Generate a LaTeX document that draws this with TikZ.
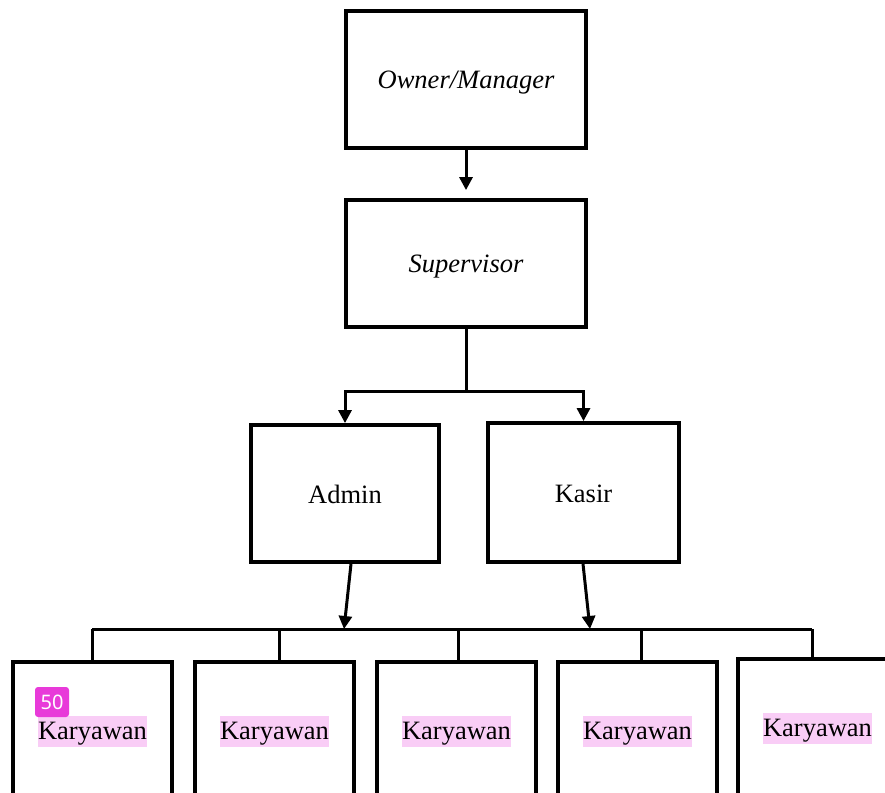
\documentclass[tikz,border=0pt]{standalone}
\usepackage{fontspec}
\setmainfont{Liberation Serif}
\newfontfamily\badgefont{Noto Sans}
\usetikzlibrary{arrows.meta,calc}
\definecolor{hlpink}{HTML}{F9CDF6}
\definecolor{badgemag}{HTML}{E83AD9}
\newcommand\lowr[2]{\raisebox{-#1pt}[0pt][0pt]{#2}}
\begin{document}
\begin{tikzpicture}[x=1pt,y=-1pt,
  box/.style={draw,line width=3.8pt,minimum width=240pt,inner sep=0pt,font=\fontsize{26.5}{30}\selectfont},
  kbox/.style={draw,line width=3.8pt,minimum width=159pt,minimum height=140pt,inner sep=0pt,anchor=north,font=\fontsize{26.5}{30}\selectfont},
  conn/.style={line width=3pt},
  arr/.style={conn,-{Triangle[length=13pt,width=13pt]}}]
\useasboundingbox (0,0) rectangle (885,792);
\clip (0,0) rectangle (885,792);
% top boxes
\node[box,minimum height=137pt] (own) at (466,79.5) {\lowr{8.5}{\itshape Owner/Manager}};
\node[box,minimum height=127pt] (sup) at (466,263.5) {\lowr{8.5}{\itshape Supervisor}};
\node[box,minimum width=188pt,minimum height=137pt] (adm) at (345,493.5) {\lowr{9.5}{Admin}};
\node[box,minimum width=191pt,minimum height=139pt] (kas) at (583.5,492.5) {\lowr{9.5}{Kasir}};
% karyawan boxes
\newcommand\kary{\lowr{8}{\setlength{\fboxsep}{0.5pt}\colorbox{hlpink}{\rule[-6.5pt]{0pt}{30pt}Karyawan}}}
\node[kbox] (k1) at (92.5,660) {\kary};
\node[kbox] (k2) at (274.5,660) {\kary};
\node[kbox] (k3) at (456.5,660) {\kary};
\node[kbox] (k4) at (637.5,660) {\kary};
\node[kbox] (k5) at (817.5,657) {\kary};
% connectors
\coordinate (supin) at ($(sup.north)+(0,-8)$);
\draw[arr] (own.south) -- (supin);
\coordinate (fork) at ($(sup.south)+(0,63)$);
\draw[conn] (sup.south) -- (fork);
\draw[arr] (fork) -| (adm.north);
\draw[arr] (fork) -| (kas.north);
% bus
\coordinate (busL) at (92,629);
\coordinate (busR) at (812,629);
\draw[conn] (busL) -- (busR);
\coordinate (ba) at (344,629);
\coordinate (bk) at (590,629);
\draw[arr] ($(adm.south)+(6,0)$) -- (ba);
\draw[arr] ($(kas.south)+(-0.5,0)$) -- (bk);
\draw[conn] (busL) -- (92,660);
\draw[conn] (279,629) -- (279,660);
\draw[conn] (458,629) -- (458,660);
\draw[conn] (641,629) -- (641,660);
\draw[conn] (busR) -- (812,657);
% badge
\node[fill=badgemag,rounded corners=3pt,text=white,minimum width=34pt,minimum height=30pt,inner sep=0pt,font=\badgefont\fontsize{20}{22}\selectfont] (badge) at (52,702) {50};
\end{tikzpicture}
\end{document}
